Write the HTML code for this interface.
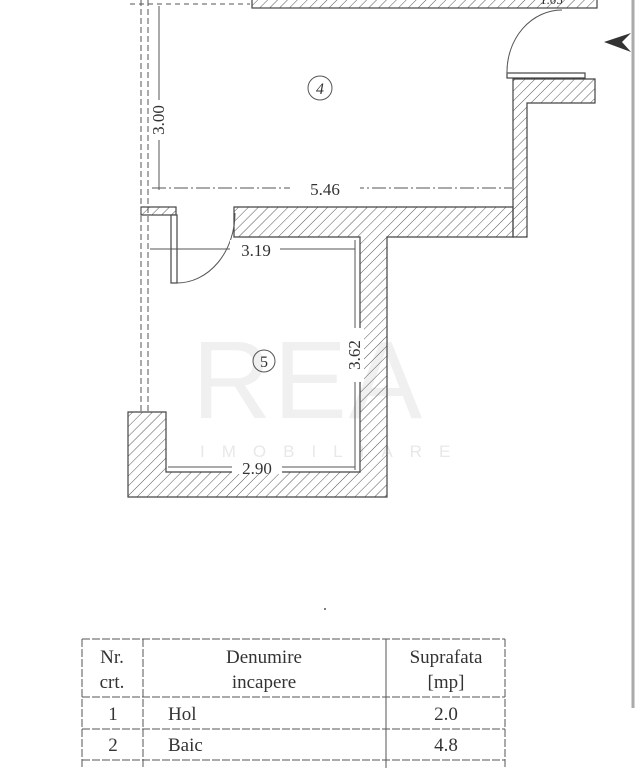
<!DOCTYPE html>
<html><head><meta charset="utf-8"><style>
html,body{margin:0;padding:0;background:#fff;}
svg{display:block}
text{font-family:"Liberation Serif",serif;fill:#333}
</style></head><body>
<svg width="640" height="768" viewBox="0 0 640 768" xmlns="http://www.w3.org/2000/svg">
<defs>
<pattern id="h" width="7" height="7" patternUnits="userSpaceOnUse" patternTransform="rotate(45)">
<line x1="0" y1="0" x2="0" y2="7" stroke="#555" stroke-width="1"/>
</pattern>
</defs>
<rect width="640" height="768" fill="#fff"/>
<!-- watermark -->
<text x="192" y="418" font-size="110" style="fill:#f0f0f0;font-family:'Liberation Sans',sans-serif" letter-spacing="2">REA</text>
<text x="200" y="457" font-size="17" style="fill:#e8e8e8;font-family:'Liberation Sans',sans-serif" letter-spacing="17">IMOBILIARE</text>

<g stroke="#444" stroke-width="1.2">
<rect x="252" y="-2" width="345" height="10" fill="url(#h)"/>
<path d="M513 79 H595 V103 H527 V237 H513 Z" fill="url(#h)"/>
<rect x="507" y="73" width="78" height="5" fill="#fff"/>
<path d="M234 207 H513 V237 H387 V497 H128 V412 H166 V472 H360 V237 H234 Z" fill="url(#h)"/>
<rect x="141" y="207" width="35" height="8" fill="url(#h)"/>
<rect x="171" y="215" width="6" height="68" fill="#fff"/>
</g>
<g fill="none" stroke="#555" stroke-width="1">
<path d="M507 74 A55 62 0 0 1 562 10"/>
<path d="M177 283 A58 70 0 0 0 235 213"/>
<line x1="141" y1="0" x2="141" y2="412" stroke-dasharray="6 3"/>
<line x1="148" y1="0" x2="148" y2="412" stroke-dasharray="6 3"/>
<line x1="130" y1="4" x2="250" y2="4" stroke-dasharray="5 4"/>
<line x1="159" y1="6" x2="159" y2="190"/>
<line x1="152" y1="188" x2="512" y2="188" stroke-dasharray="14 3 2 3"/>
<line x1="150" y1="249" x2="355" y2="249"/>
<line x1="168" y1="467" x2="355" y2="467"/>
<line x1="355" y1="240" x2="355" y2="470"/>
<circle cx="320" cy="88" r="12"/>
<circle cx="264" cy="361" r="11"/>
</g>
<rect x="151" y="100" width="16" height="40" fill="#fff"/>
<rect x="290" y="180" width="70" height="16" fill="#fff"/>
<rect x="230" y="240" width="50" height="16" fill="#fff"/>
<rect x="232" y="458" width="50" height="16" fill="#fff"/>
<rect x="346" y="328" width="18" height="54" fill="#fff"/>
<text x="320" y="94" font-size="16" text-anchor="middle" font-style="italic">4</text>
<text x="264" y="367" font-size="16" text-anchor="middle">5</text>
<text x="159" y="120" font-size="17" text-anchor="middle" transform="rotate(-90 159 120)" dy="5">3.00</text>
<text x="325" y="195" font-size="17" text-anchor="middle">5.46</text>
<text x="256" y="256" font-size="17" text-anchor="middle">3.19</text>
<text x="257" y="474" font-size="17" text-anchor="middle">2.90</text>
<text x="355" y="355" font-size="17" text-anchor="middle" transform="rotate(-90 355 355)" dy="5">3.62</text>
<text x="540" y="4" font-size="13">1.05</text>
<line x1="633" y1="0" x2="633" y2="708" stroke="#aaa" stroke-width="3"/>
<path d="M604 42 L631 33 L622 42 L631 52 Z" fill="#333"/>
<circle cx="325" cy="609" r="1" fill="#555"/>
<g stroke="#555" stroke-width="1" fill="none">
<line x1="82" y1="639" x2="505" y2="639" stroke-dasharray="8 2"/>
<line x1="82" y1="697" x2="505" y2="697" stroke-dasharray="8 2"/>
<line x1="82" y1="729" x2="505" y2="729" stroke-dasharray="8 2"/>
<line x1="82" y1="760" x2="505" y2="760" stroke-dasharray="8 2"/>
<line x1="82" y1="639" x2="82" y2="768" stroke-dasharray="8 2"/>
<line x1="143" y1="639" x2="143" y2="768" stroke-dasharray="8 2"/>
<line x1="386" y1="639" x2="386" y2="768"/>
<line x1="505" y1="639" x2="505" y2="768" stroke-dasharray="8 2"/>
</g>
<g font-size="19" fill="#333">
<text x="112" y="663" text-anchor="middle">Nr.</text>
<text x="112" y="688" text-anchor="middle">crt.</text>
<text x="264" y="663" text-anchor="middle">Denumire</text>
<text x="264" y="688" text-anchor="middle">incapere</text>
<text x="446" y="663" text-anchor="middle">Suprafata</text>
<text x="446" y="688" text-anchor="middle">[mp]</text>
<text x="113" y="720" text-anchor="middle">1</text>
<text x="168" y="720">Hol</text>
<text x="446" y="720" text-anchor="middle">2.0</text>
<text x="113" y="751" text-anchor="middle">2</text>
<text x="168" y="751">Baic</text>
<text x="446" y="751" text-anchor="middle">4.8</text>
</g>
</svg>
</body></html>
